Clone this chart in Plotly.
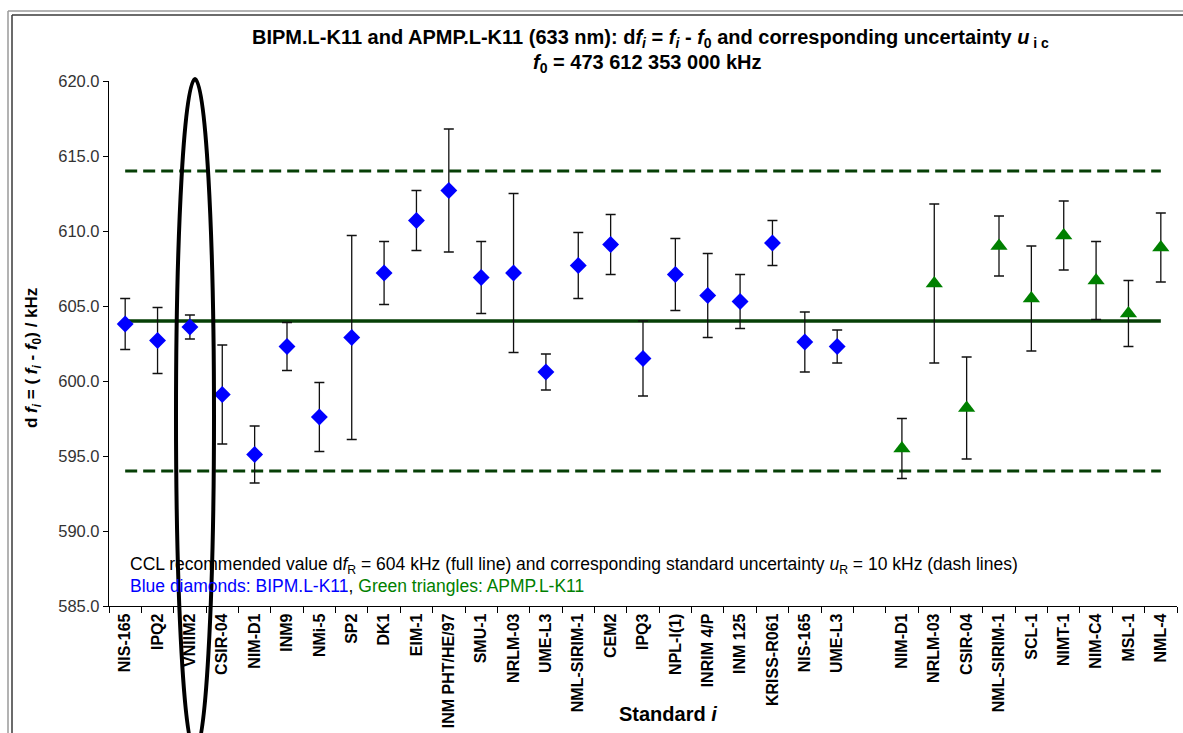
import plotly.graph_objects as go

# ---------------- data ----------------
blue_labels = ["NIS-165", "IPQ2", "VNIIM2", "CSIR-04", "NIM-D1", "INM9", "NMi-5", "SP2",
               "DK1", "EIM-1", "INM PHT/HE/97", "SMU-1", "NRLM-03", "UME-L3", "NML-SIRIM-1",
               "CEM2", "IPQ3", "NPL-I(1)", "INRIM 4/P", "INM 125", "KRISS-R061", "NIS-165", "UME-L3"]
blue_values = [603.8, 602.7, 603.6, 599.1, 595.1, 602.3, 597.6, 602.9,
               607.2, 610.7, 612.7, 606.9, 607.2, 600.6, 607.7,
               609.1, 601.5, 607.1, 605.7, 605.3, 609.2, 602.6, 602.3]
blue_unc = [1.7, 2.2, 0.8, 3.3, 1.9, 1.6, 2.3, 6.8,
            2.1, 2.0, 4.1, 2.4, 5.3, 1.2, 2.2,
            2.0, 2.5, 2.4, 2.8, 1.8, 1.5, 2.0, 1.1]

green_labels = ["NIM-D1", "NRLM-03", "CSIR-04", "NML-SIRIM-1", "SCL-1", "NIMT-1", "NIM-C4", "MSL-1", "NML-4"]
green_values = [595.5, 606.5, 598.2, 609.0, 605.5, 609.7, 606.7, 604.5, 608.9]
green_unc = [2.0, 5.3, 3.4, 2.0, 3.5, 2.3, 2.6, 2.2, 2.3]

ref_value = 604.0   # CCL recommended value df_R
ref_unc = 10.0      # u_R

y_ticks = [585, 590, 595, 600, 605, 610, 615, 620]

# ---------------- positions ----------------
n_blue = len(blue_labels)
blue_x = list(range(n_blue))
green_x = [n_blue + 1 + i for i in range(len(green_labels))]   # one empty slot between groups
n_slots = n_blue + 1 + len(green_labels)
tick_vals = blue_x + green_x
tick_text = blue_labels + green_labels
first_x, last_x = 0, n_slots - 1

FONT = "Liberation Sans, Arial, sans-serif"
LINE_GREEN = "#063f06"

fig = go.Figure()

# reference line and uncertainty band (dashed)
fig.add_trace(go.Scatter(x=[first_x, last_x], y=[ref_value, ref_value], mode="lines",
                         line=dict(color=LINE_GREEN, width=3.5), hoverinfo="skip", showlegend=False))
for yy in (ref_value + ref_unc, ref_value - ref_unc):
    fig.add_trace(go.Scatter(x=[first_x, last_x], y=[yy, yy], mode="lines",
                             line=dict(color=LINE_GREEN, width=3.2, dash="12px,6px"),
                             hoverinfo="skip", showlegend=False))

fig.add_trace(go.Scatter(
    x=blue_x, y=blue_values, mode="markers", name="BIPM.L-K11",
    marker=dict(symbol="diamond", size=13, color="#0000ff", line=dict(width=0)),
    error_y=dict(type="data", array=blue_unc, visible=True, color="#111111", thickness=1.3, width=5),
    showlegend=False))

fig.add_trace(go.Scatter(
    x=green_x, y=green_values, mode="markers", name="APMP.L-K11",
    marker=dict(symbol="triangle-up", size=15, color="#008000", line=dict(width=0)),
    error_y=dict(type="data", array=green_unc, visible=True, color="#111111", thickness=1.3, width=5),
    showlegend=False))

# plot area geometry (pixels)
L, R, T, B = 109, 6, 81, 127
W, H = 1183, 733
pw, ph = W - L - R, H - T - B

def px(xp):
    return (xp - L) / pw

def py(yp):
    return (H - B - yp) / ph

shapes = []
# highlighting ellipse around VNIIM2
shapes.append(dict(type="circle", xref="paper", yref="paper",
                   x0=px(176), x1=px(214), y0=py(752), y1=py(79),
                   line=dict(color="black", width=4)))
# outer frame (double line)
shapes.append(dict(type="line", xref="paper", yref="paper", x0=px(8), x1=px(8), y0=py(11), y1=py(740),
                   line=dict(color="#9a9a9a", width=1.5)))
shapes.append(dict(type="line", xref="paper", yref="paper", x0=px(12), x1=px(12), y0=py(15), y1=py(740),
                   line=dict(color="#3a3a3a", width=1.5)))
shapes.append(dict(type="line", xref="paper", yref="paper", x0=px(8), x1=px(1190), y0=py(11), y1=py(11),
                   line=dict(color="#9a9a9a", width=1.5)))
shapes.append(dict(type="line", xref="paper", yref="paper", x0=px(12), x1=px(1190), y0=py(15), y1=py(15),
                   line=dict(color="#3a3a3a", width=1.5)))

annotations = [
    dict(xref="paper", yref="paper", x=px(650), y=py(39), xanchor="center", yanchor="middle",
         text="<b>BIPM.L-K11 and APMP.L-K11 (633 nm): d<i>f<sub>i</sub></i> = <i>f<sub>i</sub></i> - "
              "<i>f</i><sub>0</sub> and corresponding uncertainty <i>u</i><sub> i c</sub></b>",
         showarrow=False, font=dict(family=FONT, size=20, color="black")),
    dict(xref="paper", yref="paper", x=px(647), y=py(63), xanchor="center", yanchor="middle",
         text="<b><i>f</i><sub>0</sub> = 473 612 353 000 kHz</b>",
         showarrow=False, font=dict(family=FONT, size=20, color="black")),
    dict(xref="paper", yref="paper", x=px(33), y=py(358), xanchor="center", yanchor="middle",
         text="<b>d <i>f<sub>i</sub></i> = ( <i>f<sub>i</sub></i> - <i>f</i><sub>0</sub>) / kHz</b>",
         textangle=-90, showarrow=False, font=dict(family=FONT, size=17, color="black")),
    dict(xref="paper", yref="paper", x=px(668), y=py(714), xanchor="center", yanchor="middle",
         text="<b>Standard <i>i</i></b>",
         showarrow=False, font=dict(family=FONT, size=20, color="black")),
    dict(xref="paper", yref="paper", x=px(128), y=py(565), xanchor="left", yanchor="middle",
         text="CCL recommended value d<i>f</i><sub>R</sub> = 604 kHz (full line) and corresponding "
              "standard uncertainty <i>u</i><sub>R</sub> = 10 kHz (dash lines)",
         showarrow=False, font=dict(family=FONT, size=17.5, color="black")),
    dict(xref="paper", yref="paper", x=px(128), y=py(586), xanchor="left", yanchor="middle",
         text="<span style='color:#0000ff'>Blue diamonds: BIPM.L-K11</span>, "
              "<span style='color:#008000'>Green triangles: APMP.L-K11</span>",
         showarrow=False, font=dict(family=FONT, size=17.5, color="black")),
]

fig.update_layout(
    width=W, height=H,
    margin=dict(l=L, r=R, t=T, b=B, pad=0),
    paper_bgcolor="white", plot_bgcolor="white",
    font=dict(family=FONT, color="black"),
    showlegend=False,
    shapes=shapes, annotations=annotations,
    xaxis=dict(
        range=[-0.5, n_slots - 0.5], tickmode="array", tickvals=tick_vals,
        ticktext=[f"<b>{t}</b>" for t in tick_text],
        tickangle=-90, ticks="", showgrid=False, zeroline=False,
        showline=True, linecolor="black", linewidth=1.3,
        tickfont=dict(family=FONT, size=16, color="black"),
        minor=dict(tickmode="linear", tick0=-0.5, dtick=1, ticks="outside", ticklen=6,
                   tickcolor="black", tickwidth=1.3, showgrid=False),
        fixedrange=True,
    ),
    yaxis=dict(
        range=[585, 620], tickmode="array", tickvals=y_ticks,
        ticktext=[f"{v:.1f}" for v in y_ticks],
        ticks="outside", ticklen=5, tickcolor="black", tickwidth=1.3,
        showgrid=False, zeroline=False, showline=True, linecolor="black", linewidth=1.3,
        tickfont=dict(family=FONT, size=16.5, color="#333333"),
        fixedrange=True,
    ),
)

fig.write_html("out.html", config={"displayModeBar": False},
               post_script="document.body.style.margin='0';document.body.style.overflow='hidden';")
